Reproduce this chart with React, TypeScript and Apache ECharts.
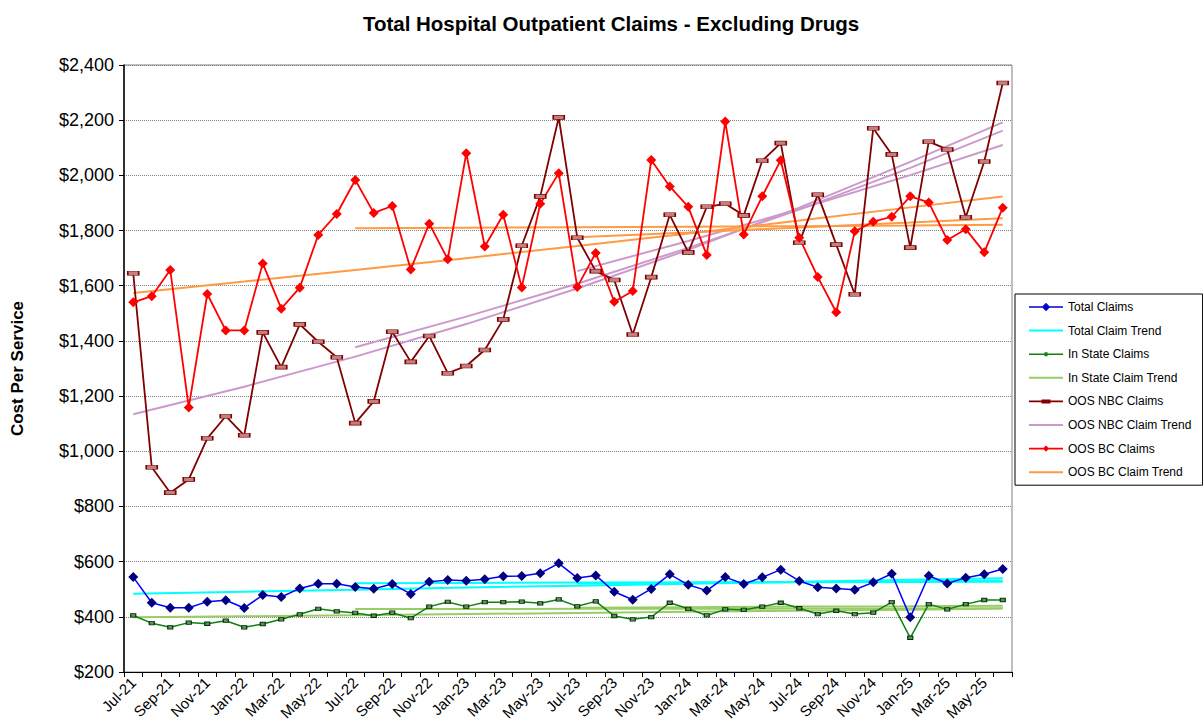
import React, { useEffect, useRef } from "react";
import * as echarts from "echarts";

const months = [
  "Jul-21","Aug-21","Sep-21","Oct-21","Nov-21","Dec-21","Jan-22","Feb-22","Mar-22","Apr-22","May-22","Jun-22",
  "Jul-22","Aug-22","Sep-22","Oct-22","Nov-22","Dec-22","Jan-23","Feb-23","Mar-23","Apr-23","May-23","Jun-23",
  "Jul-23","Aug-23","Sep-23","Oct-23","Nov-23","Dec-23","Jan-24","Feb-24","Mar-24","Apr-24","May-24","Jun-24",
  "Jul-24","Aug-24","Sep-24","Oct-24","Nov-24","Dec-24","Jan-25","Feb-25","Mar-25","Apr-25","May-25","Jun-25",
];

const totalClaims = [
  544,451,433,433,455,460,432,479,472,503,520,520,
  508,502,519,483,527,533,531,536,547,548,558,594,
  541,550,491,462,501,554,516,495,544,519,543,571,
  530,507,503,498,525,556,398,549,521,542,554,573,
];
const inStateClaims = [
  405,377,362,379,375,386,362,374,391,409,429,420,
  414,404,415,395,437,454,437,453,453,455,449,463,
  438,456,403,391,399,451,429,405,427,425,437,451,
  431,410,422,410,415,453,324,446,427,446,461,461,
];
const oosNbcClaims = [
  1645,942,850,898,1047,1127,1058,1431,1305,1460,1397,1341,
  1102,1181,1433,1324,1418,1283,1309,1367,1478,1745,1924,2210,
  1774,1653,1621,1423,1631,1857,1721,1886,1897,1855,2053,2117,
  1756,1930,1749,1569,2171,2076,1738,2122,2094,1848,2050,2335,
];
const oosBcClaims = [
  1540,1562,1657,1159,1570,1438,1438,1681,1517,1593,1784,1860,
  1983,1864,1889,1659,1825,1696,2080,1742,1857,1594,1897,2008,
  1595,1719,1542,1581,2056,1960,1886,1711,2195,1786,1924,2055,
  1774,1632,1504,1797,1832,1850,1924,1902,1766,1805,1721,1883,
];

// trend line values at these month indices
const trendIdx = [0, 6, 12, 18, 24, 30, 36, 42, 47];
const totalTrendAll = [484, 491, 498, 506, 513, 520, 527, 534, 540];
const totalTrend3y = [null, null, 522, 523, 524, 525, 525, 526, 527];
const totalTrend2y = [null, null, null, null, 521, 523, 526, 529, 531];
const inStateTrendAll = [398, 402, 406, 410, 414, 418, 422, 426, 430];
const inStateTrend3y = [null, null, 428, 428, 429, 429, 430, 430, 431];
const inStateTrend2y = [null, null, null, null, 433, 435, 437, 438, 440];
const nbcTrendAll = [1134, 1234, 1343, 1461, 1590, 1730, 1883, 2049, 2192];
const nbcTrend3y = [null, null, 1377, 1488, 1607, 1737, 1876, 2027, 2162];
const nbcTrend2y = [null, null, null, null, 1653, 1762, 1878, 2001, 2110];
const bcTrendAll = [1574, 1615, 1657, 1700, 1744, 1789, 1836, 1884, 1923];
const bcTrend3y = [null, null, 1808, 1810, 1812, 1814, 1816, 1818, 1821];
const bcTrend2y = [null, null, null, null, 1776, 1793, 1811, 1829, 1845];

const yTicks = { min: 200, max: 2400, interval: 200 };

function expand(samples: (number | null)[]) {
  const arr: (number | null)[] = months.map(() => null);
  trendIdx.forEach((idx, k) => {
    arr[idx] = samples[k];
  });
  return arr;
}

const FONT = "Arial, 'Liberation Sans', Helvetica, sans-serif";

const C = {
  total: "#0000ff",
  totalMark: "#000080",
  totalTrend: "#00ffff",
  inState: "#108010",
  inStateTrend: "#99cc66",
  nbc: "#800000",
  nbcTrend: "#cc99cc",
  bc: "#ff0000",
  bcTrend: "#ff9a45",
};

const ICON_TREND = "path://M0,0h34v2h-34z";
const ICON_TOTAL = "path://M0,3.6h34v1.6h-34z M17,0.2l4.2,4.2l-4.2,4.2l-4.2,-4.2z";
const ICON_INSTATE = "path://M0,1.2h34v1.6h-34z M15.5,0h3v4h-3z";
const ICON_NBC = "path://M0,1.2h34v1.6h-34z M12.5,0h9v4h-9z";
const ICON_BC = "path://M0,2.4h34v1.6h-34z M17,0l3.2,3.2l-3.2,3.2l-3.2,-3.2z";

function trendSeries(name: string, color: string, samples: (number | null)[]) {
  return {
    name,
    type: "line",
    data: expand(samples),
    connectNulls: true,
    symbol: "none",
    showSymbol: false,
    lineStyle: { color, width: 2 },
    itemStyle: { color },
    z: 3,
  };
}

export default function App() {
  const ref = useRef<HTMLDivElement>(null);
  useEffect(() => {
    document.body.style.margin = "0";
    if (!ref.current) return;
    const chart = echarts.init(ref.current, null, { renderer: "svg" });
    chart.setOption({
      animation: false,
      backgroundColor: "#ffffff",
      title: {
        text: "Total Hospital Outpatient Claims - Excluding Drugs",
        left: 606,
        top: 8,
        textAlign: "center",
        textStyle: { fontFamily: FONT, fontSize: 20.5, fontWeight: "bold", color: "#000" },
      },
      legend: {
        orient: "vertical",
        left: 1015,
        top: 294,
        padding: [6, 11, 6, 14],
        itemWidth: 34,
        itemHeight: 14,
        itemGap: 9.6,
        borderColor: "#000",
        borderWidth: 1,
        selectedMode: false,
        symbolKeepAspect: true,
        textStyle: { fontFamily: FONT, fontSize: 12, color: "#000", lineHeight: 14 },
        data: [
          { name: "Total Claims", icon: ICON_TOTAL, itemStyle: { color: "#0000d0", borderWidth: 0 } },
          { name: "Total Claim Trend", icon: ICON_TREND, itemStyle: { color: C.totalTrend, borderWidth: 0 } },
          { name: "In State Claims", icon: ICON_INSTATE, itemStyle: { color: C.inState, borderWidth: 0 } },
          { name: "In State Claim Trend", icon: ICON_TREND, itemStyle: { color: C.inStateTrend, borderWidth: 0 } },
          { name: "OOS NBC Claims", icon: ICON_NBC, itemStyle: { color: C.nbc, borderWidth: 0 } },
          { name: "OOS NBC Claim Trend", icon: ICON_TREND, itemStyle: { color: C.nbcTrend, borderWidth: 0 } },
          { name: "OOS BC Claims", icon: ICON_BC, itemStyle: { color: C.bc, borderWidth: 0 } },
          { name: "OOS BC Claim Trend", icon: ICON_TREND, itemStyle: { color: C.bcTrend, borderWidth: 0 } },
        ],
      },
      grid: {
        left: 124,
        right: 191,
        top: 65,
        bottom: 54,
        show: true,
        borderColor: "#808080",
        borderWidth: 1,
        containLabel: false,
      },
      xAxis: {
        type: "category",
        data: months,
        boundaryGap: true,
        axisLine: { lineStyle: { color: "#000", width: 1 } },
        axisTick: { show: true, interval: 0, alignWithLabel: false, length: 5, lineStyle: { color: "#000" } },
        axisLabel: {
          interval: 1,
          rotate: 45,
          margin: 8,
          fontFamily: FONT,
          fontSize: 15,
          color: "#000",
        },
        splitLine: { show: false },
      },
      yAxis: {
        type: "value",
        min: yTicks.min,
        max: yTicks.max,
        interval: yTicks.interval,
        name: "Cost Per Service",
        nameLocation: "middle",
        nameRotate: 90,
        nameGap: 98,
        nameTextStyle: { fontFamily: FONT, fontSize: 17, fontWeight: "bold", color: "#000" },
        axisLine: { show: true, lineStyle: { color: "#000", width: 1.5 } },
        axisTick: { show: true, length: 5, lineStyle: { color: "#000" } },
        axisLabel: {
          fontFamily: FONT,
          fontSize: 18,
          color: "#000",
          margin: 10,
          formatter: (v: number) => "$" + v.toLocaleString("en-US"),
        },
        splitLine: { show: true, lineStyle: { color: "#808080", type: "dotted", width: 1 } },
      },
      series: [
        {
          name: "Total Claims",
          type: "line",
          data: totalClaims,
          symbol: "diamond",
          symbolSize: 10,
          lineStyle: { color: C.total, width: 1.5 },
          itemStyle: { color: C.totalMark },
          z: 4,
        },
        trendSeries("Total Claim Trend", C.totalTrend, totalTrendAll),
        trendSeries("Total Claim Trend", C.totalTrend, totalTrend3y),
        trendSeries("Total Claim Trend", C.totalTrend, totalTrend2y),
        {
          name: "In State Claims",
          type: "line",
          data: inStateClaims,
          symbol: "rect",
          symbolSize: [5, 3.5],
          lineStyle: { color: C.inState, width: 1.5 },
          itemStyle: { color: "#5f8f5f", borderColor: "#003300", borderWidth: 1 },
          z: 4,
        },
        trendSeries("In State Claim Trend", C.inStateTrend, inStateTrendAll),
        trendSeries("In State Claim Trend", C.inStateTrend, inStateTrend3y),
        trendSeries("In State Claim Trend", C.inStateTrend, inStateTrend2y),
        {
          name: "OOS NBC Claims",
          type: "line",
          data: oosNbcClaims,
          symbol: "rect",
          symbolSize: [11, 4],
          lineStyle: { color: C.nbc, width: 1.8 },
          itemStyle: { color: "#c08080", borderColor: C.nbc, borderWidth: 1 },
          z: 4,
        },
        trendSeries("OOS NBC Claim Trend", C.nbcTrend, nbcTrendAll),
        trendSeries("OOS NBC Claim Trend", C.nbcTrend, nbcTrend3y),
        trendSeries("OOS NBC Claim Trend", C.nbcTrend, nbcTrend2y),
        {
          name: "OOS BC Claims",
          type: "line",
          data: oosBcClaims,
          symbol: "diamond",
          symbolSize: 10,
          lineStyle: { color: C.bc, width: 1.8 },
          itemStyle: { color: C.bc },
          z: 4,
        },
        trendSeries("OOS BC Claim Trend", C.bcTrend, bcTrendAll),
        trendSeries("OOS BC Claim Trend", C.bcTrend, bcTrend3y),
        trendSeries("OOS BC Claim Trend", C.bcTrend, bcTrend2y),
      ],
    });
    return () => chart.dispose();
  }, []);
  return <div ref={ref} style={{ width: 1203, height: 726 }} />;
}
